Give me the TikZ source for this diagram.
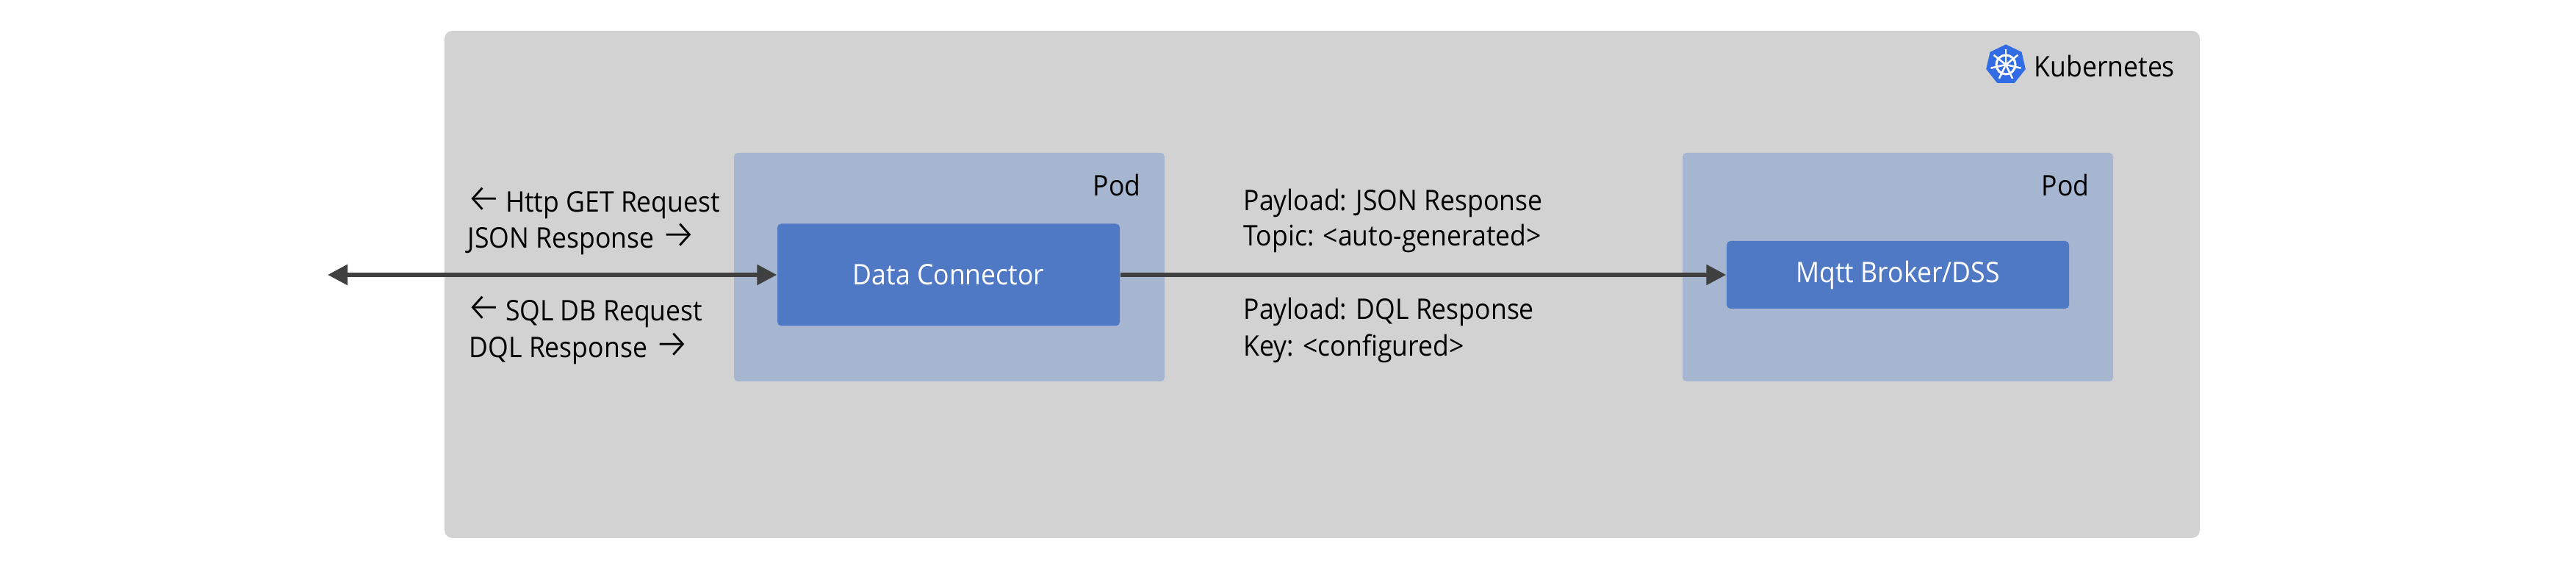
\documentclass[tikz,border=0pt]{standalone}
\usepackage{fontspec}
\setmainfont[FakeStretch=0.92]{Open Sans}
\newfontfamily\arrowfont[Scale=1.4]{Fira Sans Light}
\usetikzlibrary{arrows.meta,positioning,calc,shapes.geometric}
\definecolor{clustergray}{HTML}{D2D2D2}
\definecolor{podblue}{HTML}{A6B5D0}
\definecolor{appblue}{HTML}{5079C5}
\definecolor{linkgray}{HTML}{404040}
\definecolor{helmblue}{HTML}{326CE5}
\newcommand{\larr}{{\arrowfont\char"2190}}
\newcommand{\rarr}{{\arrowfont\char"2192}}
\tikzset{
  cluster/.style={rectangle,fill=clustergray,rounded corners=3pt,inner sep=0pt,minimum width=23.89cm,minimum height=6.9cm},
  pod/.style={rectangle,fill=podblue,rounded corners=1.5pt,inner sep=0pt,minimum width=5.86cm,minimum height=3.11cm},
  app/.style={rectangle,fill=appblue,rounded corners=1.5pt,inner sep=0pt,minimum width=4.66cm,text=white,font=\fontsize{11}{13}\selectfont},
  lbl/.style={anchor=base west,inner sep=0pt,font=\fontsize{11}{13}\selectfont},
  link/.style={draw=linkgray,line width=0.055cm,-{Triangle[length=0.27cm,width=0.27cm]}}
}
\begin{document}
\begin{tikzpicture}
  \useasboundingbox (0,0) rectangle (35.06,7.92);

  % cluster and pods
  \node[cluster] (k8s) at (17.995,4.05) {};
  \node[pod] (pod1) at (12.92,4.285) {};
  \node[pod] (pod2) at (25.83,4.285) {};
  \node[app,minimum height=1.39cm] (connector) at (12.91,4.18) {Data Connector};
  \node[app,minimum height=0.92cm] (broker) at (25.83,4.18) {Mqtt Broker/DSS};
  \node[lbl] (pod1lbl) at (14.87,5.25) {Pod};
  \node[lbl] (pod2lbl) at (27.78,5.25) {Pod};

  % logo: heptagon with helm wheel
  \node[regular polygon,regular polygon sides=7,fill=helmblue,inner sep=0pt,minimum size=0.55cm] (logo) at (27.30,7.04) {};
  \draw[white,line width=0.03cm] (logo.center) circle (0.13);
  \fill[white] (logo.center) circle (0.03);
  \foreach \a in {90,141.4,192.9,244.3,295.7,347.1,38.6}{
    \draw[white,line width=0.025cm] (logo.center) -- ++(\a:0.21);
  }
  \node[lbl] (k8slbl) at (27.68,6.87) {Kubernetes};

  % labels on the left of the connector
  \node[lbl] (httpreq) at (6.34,5.03) {\larr\hspace{0.12em}Http GET Request};
  \node[lbl] (jsonresp) at (6.36,4.54) {JSON Response \rarr};
  \node[lbl] (sqlreq) at (6.34,3.55) {\larr\hspace{0.12em}SQL DB Request};
  \node[lbl] (dqlresp) at (6.38,3.05) {DQL Response \rarr};

  % labels towards the broker
  \node[lbl] (jsonload) at (16.92,5.05) {Payload: JSON Response};
  \node[lbl] (topic) at (16.92,4.57) {Topic: <auto-generated>};
  \node[lbl] (dqlload) at (16.92,3.57) {Payload: DQL Response};
  \node[lbl] (keycfg) at (16.92,3.07) {Key: <configured>};

  % links
  \coordinate (client) at (4.46,4.18);
  \draw[link,{Triangle[length=0.27cm,width=0.27cm]}-{Triangle[length=0.27cm,width=0.27cm]}] (client) -- (connector.west);
  \draw[link] (connector.east) -- (broker.west);
\end{tikzpicture}
\end{document}
